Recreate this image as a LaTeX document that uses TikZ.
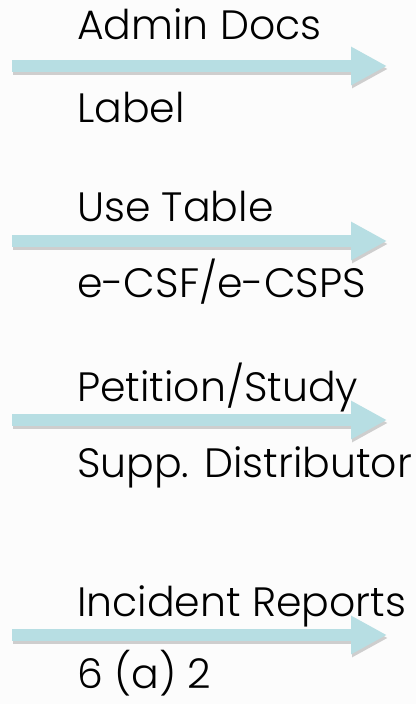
\documentclass[tikz,border=0pt]{standalone}
\usepackage{fontspec}
\setmainfont{Poppins}[UprightFont=* Light]
\usetikzlibrary{arrows.meta}

\definecolor{flowteal}{HTML}{B7DEE3}
\definecolor{paper}{HTML}{FCFCFC}

\tikzset{
  flow/.style={line width=12pt, flowteal, -{Triangle[length=36pt,width=36pt]}},
  flowshadow/.style={line width=12pt, black, opacity=0.18, -{Triangle[length=36pt,width=36pt]}},
  tag/.style={anchor=base west, inner sep=0pt, font=\fontsize{41}{41}\selectfont}
}

\begin{document}
\begin{tikzpicture}[x=1pt,y=1pt]

\fill[paper] (0,0) rectangle (416,704);
\useasboundingbox (0,0) rectangle (416,704);

\foreach \i/\ya/\yt/\yb/\top/\bot in {
    1/638/664/581/Admin Docs/Label,
    2/463/482/406/Use Table/e-CSF\slash e-CSPS,
    3/284/302/226/Petition\slash Study/Supp. Distributor,
    4/69/87/15/Incident Reports/6 (a) 2}
{
  \coordinate (s\i) at (12,\ya);
  \coordinate (e\i) at (387,\ya);
  \node[tag] (t\i) at (77,\yt) {\top};
  \node[tag] (b\i) at (77,\yb) {\bot};
  \draw[flowshadow] ([shift={(1,-3)}]s\i) -- ([shift={(1,-3)}]e\i);
  \draw[flow] (s\i) -- (e\i);
}

\end{tikzpicture}
\end{document}
